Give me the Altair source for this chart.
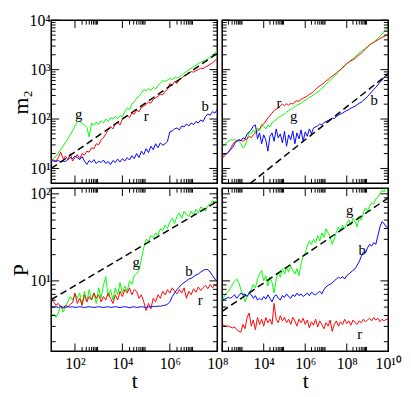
import altair as alt
import pandas as pd

SERIF = "Liberation Serif"

# sampling positions (log10 of t) used when reading the curves
LOG_T_LEFT = [1.0, 1.1, 1.2, 1.3, 1.4, 1.5, 1.6, 1.7, 1.8, 1.9,
              2.0, 2.1, 2.2, 2.3, 2.4, 2.5, 2.6, 2.7, 2.8, 2.9,
              3.0, 3.1, 3.2, 3.3, 3.4, 3.5, 3.6, 3.7, 3.8, 3.9,
              4.0, 4.1, 4.2, 4.3, 4.4, 4.5, 4.6, 4.7, 4.8, 4.9,
              5.0, 5.1, 5.2, 5.3, 5.4, 5.5, 5.6, 5.7, 5.8, 5.9,
              6.0, 6.1, 6.2, 6.3, 6.4, 6.5, 6.6, 6.7, 6.8, 6.9,
              7.0, 7.1, 7.2, 7.3, 7.4, 7.5, 7.6, 7.7, 7.8, 7.9,
              8.0]
LOG_T_RIGHT = [2.0, 2.1, 2.2, 2.3, 2.4, 2.5, 2.6, 2.7, 2.8, 2.9,
               3.0, 3.1, 3.2, 3.3, 3.4, 3.5, 3.6, 3.7, 3.8, 3.9,
               4.0, 4.1, 4.2, 4.3, 4.4, 4.5, 4.6, 4.7, 4.8, 4.9,
               5.0, 5.1, 5.2, 5.3, 5.4, 5.5, 5.6, 5.7, 5.8, 5.9,
               6.0, 6.1, 6.2, 6.3, 6.4, 6.5, 6.6, 6.7, 6.8, 6.9,
               7.0, 7.1, 7.2, 7.3, 7.4, 7.5, 7.6, 7.7, 7.8, 7.9,
               8.0, 8.1, 8.2, 8.3, 8.4, 8.5, 8.6, 8.7, 8.8, 8.9,
               9.0, 9.1, 9.2, 9.3, 9.4, 9.5, 9.6, 9.7, 9.8, 9.9,
               10.0]

# ---- top-left: m2 ----
M2_TL_G = [14.5, 15.8, 17.8, 20.4, 24.0, 28.2, 33.9, 39.8, 47.9, 57.5,
           72.4, 89.1, 91.2, 81.3, 75.9, 67.6, 43.7, 83.2, 74.1, 87.1,
           77.6, 93.3, 83.2, 100, 89.1, 107, 100, 112, 102, 117,
           112, 141, 166, 155, 200, 224, 263, 288, 331, 398,
           372, 417, 380, 437, 407, 479, 525, 603, 575, 617,
           661, 631, 692, 676, 724, 759, 851, 912, 1000, 1070,
           1150, 1230, 1320, 1410, 1480, 1550, 1660, 1820, 2000, 2190,
           2400]
M2_TL_R = [14.5, 14.8, 14.1, 16.6, 21.4, 15.8, 17.8, 15.1, 20.0, 14.1,
           16.6, 19.1, 15.8, 20.0, 18.6, 22.4, 21.4, 26.3, 25.1, 31.6,
           30.2, 38.0, 41.7, 50.1, 60.3, 70.8, 63.1, 79.4, 85.1, 75.9,
           100, 110, 117, 107, 132, 126, 151, 141, 174, 182,
           200, 219, 209, 251, 269, 288, 316, 309, 363, 398,
           525, 479, 575, 525, 631, 676, 741, 794, 851, 912,
           891, 955, 1000, 1070, 1050, 1120, 1200, 1290, 1380, 1510,
           1700]
M2_TL_B = [14.5, 14.1, 13.8, 14.5, 13.5, 14.1, 13.8, 15.1, 16.6, 15.8,
           17.8, 16.6, 15.1, 17.4, 14.1, 12.0, 14.5, 13.2, 15.1, 12.6,
           14.1, 13.2, 14.8, 12.6, 13.8, 12.0, 14.5, 13.2, 15.5, 13.5,
           15.8, 14.1, 16.6, 14.8, 18.2, 15.8, 20.0, 16.6, 22.4, 19.1,
           25.1, 20.9, 28.2, 24.0, 31.6, 26.3, 33.1, 29.5, 31.6, 35.5,
           55.0, 57.5, 63.1, 66.1, 60.3, 72.4, 69.2, 79.4, 72.4, 83.2,
           77.6, 89.1, 83.2, 95.5, 89.1, 112, 126, 120, 141, 132,
           158]

# ---- top-right: m2 ----
M2_TR_G = [28.2, 30.2, 33.1, 35.5, 38.0, 37.2, 38.9, 36.3, 35.5, 31.6,
           26.3, 28.2, 39.8, 55.0, 50.1, 60.3, 52.5, 66.1, 57.5, 79.4,
           70.8, 63.1, 75.9, 69.2, 83.2, 91.2, 97.7, 107, 112, 120,
           126, 138, 148, 158, 166, 178, 191, 200, 209, 229,
           240, 257, 275, 288, 309, 331, 355, 380, 417, 457,
           501, 562, 603, 676, 724, 813, 891, 1000, 1070, 1200,
           1320, 1410, 1550, 1660, 1820, 2000, 2190, 2340, 2510, 2690,
           2880, 3160, 3390, 3630, 3980, 4270, 4680, 5250, 5890, 6610,
           7410]
M2_TR_R = [15.8, 17.8, 19.5, 21.4, 25.1, 30.2, 34.7, 36.3, 38.0, 37.2,
           35.5, 38.0, 39.8, 44.7, 41.7, 47.9, 52.5, 57.5, 63.1, 72.4,
           79.4, 91.2, 105, 117, 132, 148, 158, 166, 186, 200,
           186, 204, 191, 209, 200, 224, 234, 229, 251, 263,
           275, 295, 316, 331, 363, 398, 437, 468, 501, 537,
           589, 631, 692, 741, 794, 851, 933, 1000, 1120, 1200,
           1320, 1410, 1510, 1580, 1700, 1860, 2000, 2140, 2340, 2630,
           2880, 3160, 3390, 3550, 3800, 3980, 4270, 4470, 4680, 4900,
           5130]
M2_TR_B = [18.2, 19.1, 20.0, 21.4, 24.0, 26.3, 31.6, 35.5, 38.0, 36.3,
           41.7, 39.8, 50.1, 55.0, 60.3, 72.4, 75.9, 39.8, 52.5, 31.6,
           47.9, 38.0, 22.4, 44.7, 52.5, 35.5, 63.1, 41.7, 50.1, 33.1,
           56.2, 28.2, 47.9, 38.0, 57.5, 31.6, 52.5, 39.8, 60.3, 35.5,
           55.0, 44.7, 63.1, 50.1, 66.1, 69.2, 72.4, 79.4, 75.9, 85.1,
           89.1, 93.3, 97.7, 105, 102, 112, 120, 126, 132, 141,
           148, 155, 166, 174, 182, 195, 209, 219, 240, 257,
           288, 316, 355, 398, 437, 490, 550, 617, 692, 794,
           871]

# ---- bottom-left: P ----
P_BL_G = [3.98, 4.17, 3.80, 4.27, 5.25, 4.37, 5.01, 5.75, 6.61, 6.03,
          7.08, 6.31, 7.24, 5.25, 7.59, 5.75, 7.94, 6.03, 7.24, 5.50,
          8.32, 6.31, 8.91, 11.2, 6.61, 7.94, 6.03, 8.32, 6.92, 9.55,
          7.24, 8.71, 7.59, 10.0, 9.12, 11.5, 12.0, 13.2, 17.8, 24.0,
          30.2, 28.2, 33.1, 31.6, 35.5, 33.1, 39.8, 38.0, 43.7, 39.8,
          47.9, 52.5, 45.7, 55.0, 60.3, 52.5, 63.1, 57.5, 55.0, 63.1,
          57.5, 66.1, 60.3, 70.8, 67.6, 63.1, 72.4, 75.9, 83.2, 79.4,
          87.1]
P_BL_R = [6.03, 5.75, 5.25, 5.50, 5.01, 4.79, 5.25, 5.01, 5.37, 5.62,
          7.24, 5.50, 6.31, 5.25, 6.92, 5.75, 6.61, 6.03, 7.24, 6.31,
          6.92, 5.75, 6.61, 6.03, 7.24, 6.31, 5.50, 6.92, 6.03, 7.59,
          6.61, 7.94, 7.24, 8.32, 6.92, 7.94, 7.59, 6.31, 6.92, 5.75,
          4.57, 5.50, 4.79, 6.31, 5.75, 6.92, 6.31, 7.59, 6.92, 7.94,
          7.24, 8.32, 7.59, 7.08, 7.94, 7.24, 8.32, 6.31, 7.59, 6.92,
          8.13, 7.41, 8.51, 7.76, 8.32, 8.91, 8.13, 9.12, 8.32, 8.91,
          8.71]
P_BL_B = [5.10, 5.00, 5.05, 4.95, 5.05, 5.00, 4.95, 5.05, 5.00, 5.05,
          4.95, 5.00, 5.05, 5.00, 4.95, 5.00, 5.05, 5.00, 4.95, 5.00,
          5.05, 5.00, 4.95, 5.00, 5.05, 4.95, 5.00, 5.05, 5.00, 4.95,
          5.00, 5.05, 5.00, 4.90, 5.00, 5.05, 4.95, 5.00, 5.05, 5.00,
          4.95, 5.05, 5.00, 5.10, 5.05, 5.15, 5.10, 5.20, 5.25, 5.40,
          5.75, 6.60, 7.24, 7.94, 8.51, 9.12, 9.55, 10.0, 10.5, 10.7,
          11.2, 11.7, 12.0, 12.6, 13.2, 13.5, 13.5, 12.6, 11.5, 10.5,
          10.0]

# ---- bottom-right: P ----
P_BR_G = [6.03, 6.61, 7.24, 7.59, 8.32, 9.12, 10.0, 10.5, 9.55, 7.94,
          6.92, 5.75, 6.61, 7.24, 7.94, 9.12, 8.32, 10.5, 12.0, 13.2,
          10.0, 11.5, 8.71, 11.0, 9.55, 7.24, 10.5, 12.6, 11.0, 13.8,
          12.0, 14.5, 12.6, 15.1, 13.2, 12.0, 13.8, 11.5, 15.8, 19.1,
          20.9, 25.1, 28.8, 26.3, 30.2, 27.5, 33.1, 28.8, 35.5, 31.6,
          39.8, 35.5, 31.6, 26.3, 30.2, 36.3, 41.7, 38.0, 43.7, 39.8,
          45.7, 50.1, 43.7, 52.5, 47.9, 41.7, 55.0, 50.1, 60.3, 69.2,
          63.1, 72.4, 79.4, 75.9, 87.1, 91.2, 100, 110, 105, 120,
          126]
P_BR_R = [3.16, 3.09, 3.02, 3.02, 2.95, 2.88, 2.95, 2.75, 2.63, 2.57,
          3.16, 2.82, 3.80, 4.27, 3.02, 3.55, 2.75, 3.80, 3.16, 3.63,
          3.02, 3.80, 3.31, 3.63, 3.16, 5.50, 3.63, 3.31, 3.98, 3.47,
          3.80, 3.31, 3.63, 3.16, 3.80, 3.47, 3.02, 3.63, 3.31, 3.72,
          3.16, 3.55, 2.88, 3.39, 3.09, 3.63, 2.95, 3.47, 3.16, 2.82,
          3.31, 3.02, 3.55, 2.63, 3.16, 3.47, 3.02, 3.39, 3.16, 3.63,
          3.24, 3.47, 3.09, 3.55, 3.31, 3.16, 3.47, 3.31, 3.63, 3.39,
          3.55, 3.72, 3.47, 3.80, 3.55, 3.72, 3.39, 3.63, 3.47, 3.63,
          3.55]
P_BR_B = [6.03, 6.17, 6.31, 6.46, 6.31, 6.61, 6.92, 6.31, 6.76, 7.24,
          6.92, 7.08, 6.61, 7.24, 6.92, 6.31, 6.76, 6.03, 6.31, 6.03,
          6.61, 6.17, 6.92, 6.31, 5.75, 6.61, 6.92, 6.31, 6.03, 6.76,
          6.46, 7.08, 6.61, 6.31, 6.92, 6.61, 7.24, 6.76, 7.08, 6.61,
          6.92, 7.24, 6.76, 7.41, 7.08, 6.92, 7.24, 7.59, 7.08, 7.94,
          8.51, 8.91, 9.12, 9.55, 10.0, 10.5, 11.0, 10.7, 11.2, 10.5,
          11.5, 12.0, 12.6, 13.2, 13.8, 15.1, 16.6, 19.1, 21.4, 20.9,
          24.0, 26.3, 25.1, 27.5, 26.3, 33.1, 41.7, 47.9, 45.7, 41.7,
          41.7]

# dashed guide lines: (t, value) end points
DASH_TL = ([10, 1e8], [10, 2150])
DASH_TR = ([2250, 1e10], [5, 820])
DASH_BL = ([10, 1e8], [6.1, 82])
DASH_BR = ([100, 1e10], [4.47, 90])

# curve labels: (text, t, value)
LAB_TL = [("g", 145, 126), ("r", 1.0e5, 117), ("b", 3.1e7, 182)]
LAB_TR = [("r", 5.4e4, 209), ("g", 2.8e5, 116), ("b", 2.1e9, 245)]
LAB_BL = [("g", 3.8e4, 16.6), ("b", 6.3e6, 12.9), ("r", 1.9e7, 6.0)]
LAB_BR = [("g", 1.4e8, 64.6), ("b", 5.5e8, 22.4), ("r", 4.2e8, 2.48)]

# axis domains and ticks
X_DOM_LEFT = [10, 1e8]
X_DOM_RIGHT = [100, 1e10]
Y_DOM_TOP = [5, 10000]
Y_DOM_BOT = [1.55, 116]

X_MAJOR_LEFT = [100, 10000, 1000000, 100000000]
X_MAJOR_RIGHT = [100, 10000, 1000000, 100000000, 10000000000]
X_MINOR_LEFT = [k * d for d in (100, 10000, 1000000) for k in range(2, 10)]
X_MINOR_RIGHT = [k * d for d in (100, 10000, 1000000, 100000000) for k in range(2, 10)]
Y_MAJOR_TOP = [10, 100, 1000, 10000]
Y_MAJOR_BOT = [10, 100]
Y_MINOR_TOP = [k * d for d in (1, 10, 100, 1000) for k in range(2, 10) if k * d >= 5]
Y_MINOR_BOT = [k * d for d in (1, 10) for k in range(2, 10)]

TICK_TEXT = {10: "10¹", 100: "10²", 1000: "10³", 10000: "10⁴",
             1000000: "10⁶", 100000000: "10⁸", 10000000000: "10¹⁰"}
X_LABELS_BL = [100, 10000, 1000000, 100000000]
X_LABELS_BR = [10000, 1000000, 100000000, 10000000000]
Y_LABELS_TL = [10, 100, 1000, 10000]
Y_LABELS_BL = [10, 100]

W, H = 169, 166
MAJOR, MINOR = 8, 4.5


def label_expr(vals):
    expr = "''"
    for v in reversed(vals):
        expr = f"datum.value == {v} ? '{TICK_TEXT[v]}' : ({expr})"
    return expr


def label_axis(values, labels, vertical, title):
    kw = dict(values=values, ticks=False, domain=False, grid=False,
              labelExpr=label_expr(labels), labelFont=SERIF, labelFontSize=16,
              labelColor="black", labelPadding=1 if vertical else 4,
              labelOverlap=False, labelFlush=False)
    if title:
        kw.update(title=title, titleFont=SERIF, titleFontSize=22,
                  titleFontWeight="normal", titleColor="black",
                  titlePadding=-3 if vertical else 0)
    else:
        kw["title"] = None
    return alt.Axis(**kw)


def panel(logt, g, r, b, dash, labs, xdom, ydom, xmaj, xmin, ymaj, ymin,
          xlab=None, ylab=None, xtitle=None, ytitle=None):
    t = [10 ** e for e in logt]
    xs = alt.Scale(type="log", domain=xdom, nice=False)
    ys = alt.Scale(type="log", domain=ydom, nice=False)
    ax = label_axis(xmaj, xlab, False, xtitle) if xlab else None
    ay = label_axis(ymaj, ylab, True, ytitle) if ylab else None

    def X():
        return alt.X("t:Q", scale=xs, axis=ax)

    def Y():
        return alt.Y("v:Q", scale=ys, axis=ay)

    layers = []
    for vals, col in [(g, "#00ff00"), (r, "#ff0000"), (b, "#0000ff")]:
        df = pd.DataFrame({"t": t, "v": vals})
        layers.append(alt.Chart(df).mark_line(color=col, strokeWidth=1, clip=True).encode(
            x=X(), y=Y()))
    ddf = pd.DataFrame({"t": dash[0], "v": dash[1]})
    layers.append(alt.Chart(ddf).mark_line(color="black", strokeWidth=1.5,
                                           strokeDash=[7, 4], clip=True).encode(x=X(), y=Y()))
    ldf = pd.DataFrame({"s": [l[0] for l in labs], "t": [l[1] for l in labs],
                        "v": [l[2] for l in labs]})
    layers.append(alt.Chart(ldf).mark_text(font=SERIF, fontSize=15, color="black",
                                           baseline="middle").encode(
        x=X(), y=Y(), text="s:N"))
    # inward ticks on all four sides
    for vals, size in [(xmaj, MAJOR), (xmin, MINOR)]:
        tdf = pd.DataFrame({"t": vals})
        for y0, y1 in [(H, H - size), (0, size)]:
            layers.append(alt.Chart(tdf).mark_rule(color="black", strokeWidth=1).encode(
                x=X(), y=alt.value(y0), y2=alt.value(y1)))
    for vals, size in [(ymaj, MAJOR), (ymin, MINOR)]:
        tdf = pd.DataFrame({"v": vals})
        for x0, x1 in [(0, size), (W, W - size)]:
            layers.append(alt.Chart(tdf).mark_rule(color="black", strokeWidth=1).encode(
                y=Y(), x=alt.value(x0), x2=alt.value(x1)))
    return alt.layer(*layers).properties(width=W, height=H)


tl = panel(LOG_T_LEFT, M2_TL_G, M2_TL_R, M2_TL_B, DASH_TL, LAB_TL, X_DOM_LEFT, Y_DOM_TOP,
           X_MAJOR_LEFT, X_MINOR_LEFT, Y_MAJOR_TOP, Y_MINOR_TOP,
           ylab=Y_LABELS_TL, ytitle="m₂")
tr = panel(LOG_T_RIGHT, M2_TR_G, M2_TR_R, M2_TR_B, DASH_TR, LAB_TR, X_DOM_RIGHT, Y_DOM_TOP,
           X_MAJOR_RIGHT, X_MINOR_RIGHT, Y_MAJOR_TOP, Y_MINOR_TOP)
bl = panel(LOG_T_LEFT, P_BL_G, P_BL_R, P_BL_B, DASH_BL, LAB_BL, X_DOM_LEFT, Y_DOM_BOT,
           X_MAJOR_LEFT, X_MINOR_LEFT, Y_MAJOR_BOT, Y_MINOR_BOT,
           xlab=X_LABELS_BL, ylab=Y_LABELS_BL, xtitle="t", ytitle="P")
br = panel(LOG_T_RIGHT, P_BR_G, P_BR_R, P_BR_B, DASH_BR, LAB_BR, X_DOM_RIGHT, Y_DOM_BOT,
           X_MAJOR_RIGHT, X_MINOR_RIGHT, Y_MAJOR_BOT, Y_MINOR_BOT,
           xlab=X_LABELS_BR, xtitle="t")

chart = alt.concat(tl, tr, bl, br, columns=2, spacing=5, bounds="flush").properties(
    padding={"left": 0, "top": 0, "right": 0, "bottom": 0},
    background="white",
).configure_view(stroke="black", strokeWidth=1.5)

chart.save("out.html", embed_options={"renderer": "svg", "actions": False})
